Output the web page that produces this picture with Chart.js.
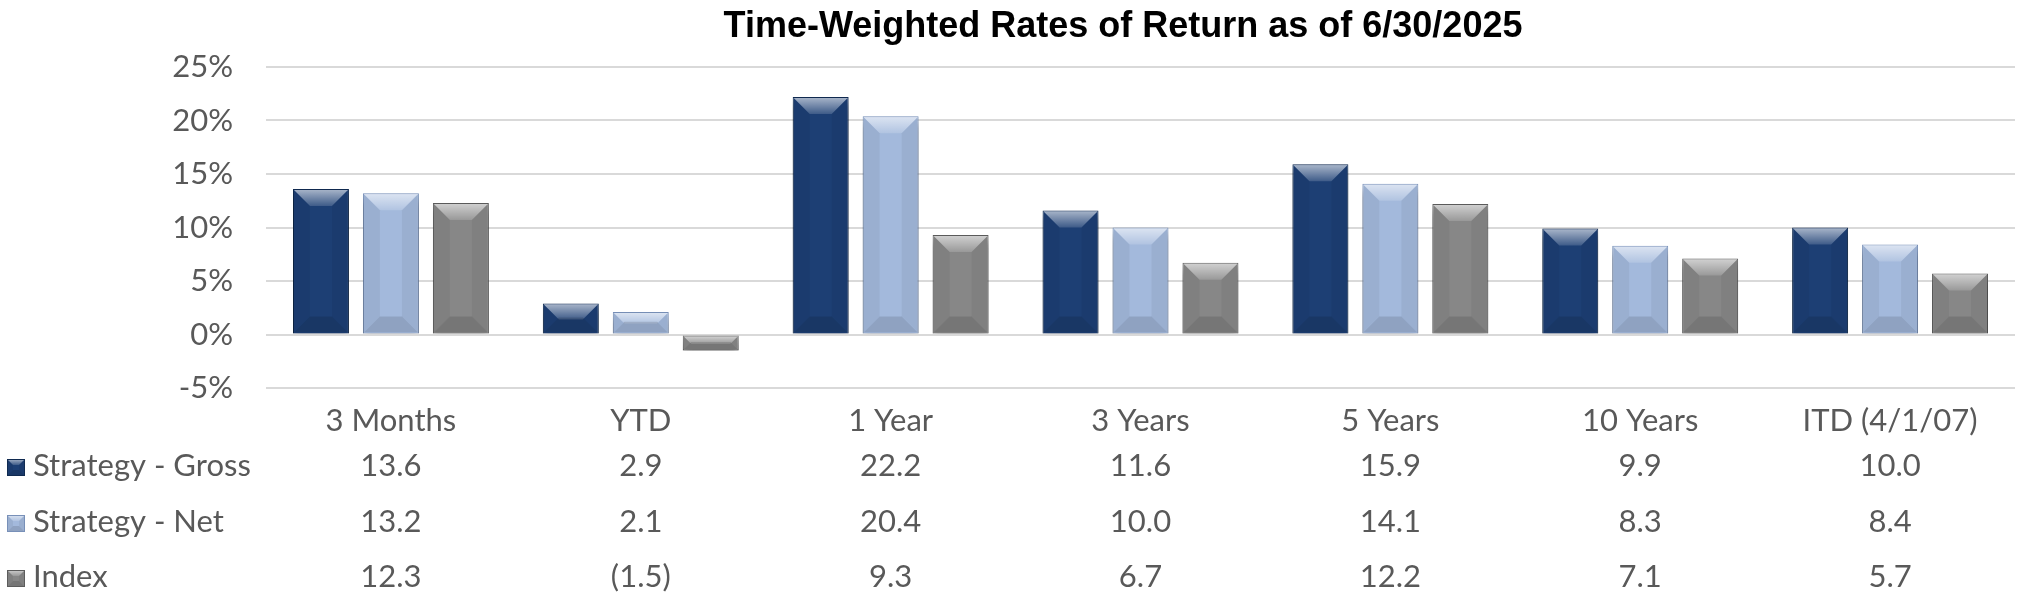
<!DOCTYPE html>
<html>
<head>
<meta charset="utf-8">
<script src="https://cdn.jsdelivr.net/npm/chart.js@4"></script>
<style>
    body { margin: 0; background: #ffffff; }
    #box { width: 2032px; height: 595px; position: relative; }
</style>
</head>
<body>
<div id="box"><canvas id="ritorni"></canvas></div>

<script>
    // dati
    const categorie = ['3 Months', 'YTD', '1 Year', '3 Years', '5 Years', '10 Years', 'ITD (4/1/07)'];
    const gross = [13.6, 2.9, 22.2, 11.6, 15.9, 9.9, 10.0];
    const net = [13.2, 2.1, 20.4, 10.0, 14.1, 8.3, 8.4];
    const indice = [12.3, -1.5, 9.3, 6.7, 12.2, 7.1, 5.7];
    const nomiSerie = ['Strategy - Gross', 'Strategy - Net', 'Index'];
    const yMin = -5, yMax = 25, yStep = 5;

    const titolo = 'Time-Weighted Rates of Return as of 6/30/2025';
    const font = 'Lato, "Open Sans", sans-serif';
    const grigio = '#595959';

    const colori = ['#1d3f74', '#a3b9dc', '#878787'];
    const bordi = ['#102a50', '#7890b8', '#5c5c5c'];

    function formatta(v) {
        return v < 0 ? '(' + Math.abs(v).toFixed(1) + ')' : v.toFixed(1);
    }

    // smusso stile excel sopra ogni barra
    function smusso(ctx, x0, y0, x1, y1, b) {
        ctx.save();
        // sopra chiaro
        var g = ctx.createLinearGradient(0, y0, 0, y0 + b);
        g.addColorStop(0, 'rgba(255,255,255,0.6)');
        g.addColorStop(1, 'rgba(255,255,255,0.15)');
        ctx.fillStyle = g;
        ctx.beginPath();
        ctx.moveTo(x0, y0); ctx.lineTo(x1, y0); ctx.lineTo(x1 - b, y0 + b); ctx.lineTo(x0 + b, y0 + b);
        ctx.closePath(); ctx.fill();
        // sotto scuro
        ctx.fillStyle = 'rgba(0,0,0,0.12)';
        ctx.beginPath();
        ctx.moveTo(x0, y1); ctx.lineTo(x1, y1); ctx.lineTo(x1 - b, y1 - b); ctx.lineTo(x0 + b, y1 - b);
        ctx.closePath(); ctx.fill();
        // lati
        ctx.fillStyle = 'rgba(0,0,0,0.05)';
        ctx.beginPath();
        ctx.moveTo(x0, y0); ctx.lineTo(x0 + b, y0 + b); ctx.lineTo(x0 + b, y1 - b); ctx.lineTo(x0, y1);
        ctx.closePath(); ctx.fill();
        ctx.beginPath();
        ctx.moveTo(x1, y0); ctx.lineTo(x1 - b, y0 + b); ctx.lineTo(x1 - b, y1 - b); ctx.lineTo(x1, y1);
        ctx.closePath(); ctx.fill();
        ctx.restore();
    }

    const pluginBarre = {
        id: 'barre3d',
        beforeDatasetsDraw(chart) {
            const ctx = chart.ctx;
            ctx.save();
            ctx.shadowColor = 'rgba(0,0,0,0.4)';
            ctx.shadowBlur = 8;
            ctx.shadowOffsetY = 7;
        },
        afterDatasetsDraw(chart) {
            const ctx = chart.ctx;
            ctx.restore();
            chart.data.datasets.forEach(function (ds, i) {
                chart.getDatasetMeta(i).data.forEach(function (bar) {
                    var x0 = bar.x - bar.width / 2, x1 = bar.x + bar.width / 2;
                    var y0 = Math.min(bar.y, bar.base), y1 = Math.max(bar.y, bar.base);
                    var b = Math.min(16, (y1 - y0) / 2, bar.width / 2);
                    smusso(ctx, x0 + 1, y0 + 1, x1 - 1, y1 - 1, b);
                });
            });
        }
    };

    const pluginTabella = {
        id: 'tabella',
        afterDraw(chart) {
            const ctx = chart.ctx;
            const xs = chart.scales.x;
            const righe = [gross, net, indice];
            const baseline = [476, 532, 587];
            ctx.save();
            // titolo
            ctx.font = 'bold 36px "Liberation Sans", Arial, sans-serif';
            ctx.fillStyle = '#000000';
            ctx.textAlign = 'center';
            ctx.textBaseline = 'alphabetic';
            ctx.fillText(titolo, 1123, 37);

            ctx.font = '31px ' + font;
            ctx.fillStyle = grigio;
            righe.forEach(function (serie, r) {
                var yb = baseline[r];
                // quadratino legenda
                ctx.fillStyle = colori[r];
                ctx.fillRect(7, yb - 17, 18, 17);
                smusso(ctx, 7, yb - 17, 25, yb, 6);
                ctx.strokeStyle = bordi[r];
                ctx.lineWidth = 1;
                ctx.strokeRect(7.5, yb - 16.5, 17, 16);
                ctx.fillStyle = grigio;
                ctx.textAlign = 'left';
                ctx.fillText(nomiSerie[r], 33, yb);
                ctx.textAlign = 'center';
                serie.forEach(function (v, i) {
                    ctx.fillText(formatta(v), xs.getPixelForValue(i), yb);
                });
            });
            ctx.restore();
        }
    };

    new Chart('ritorni', {
        type: 'bar',
        data: {
            labels: categorie,
            datasets: [
                { label: nomiSerie[0], data: gross, backgroundColor: colori[0], borderColor: bordi[0], borderWidth: 1 },
                { label: nomiSerie[1], data: net, backgroundColor: colori[1], borderColor: bordi[1], borderWidth: 1 },
                { label: nomiSerie[2], data: indice, backgroundColor: colori[2], borderColor: bordi[2], borderWidth: 1 }
            ]
        },
        options: {
            responsive: true,
            maintainAspectRatio: false,
            animation: false,
            categoryPercentage: 0.84,
            barPercentage: 0.8,
            layout: { padding: { left: 0, right: 17, top: 67, bottom: 157 } },
            plugins: {
                legend: { display: false },
                title: { display: false },
                tooltip: { enabled: false }
            },
            scales: {
                x: {
                    grid: { display: false },
                    border: { display: false },
                    ticks: { color: grigio, font: { family: font, size: 31 }, padding: 6, maxRotation: 0 },
                    afterFit(scale) { scale.height = 50; }
                },
                y: {
                    min: yMin,
                    max: yMax,
                    grid: { color: '#d9d9d9', lineWidth: 2, drawTicks: false },
                    border: { display: false },
                    ticks: {
                        stepSize: yStep,
                        padding: 33,
                        color: grigio,
                        font: { family: font, size: 31 },
                        callback: function (v) { return v + '%'; }
                    },
                    afterFit(scale) { scale.width = 266; }
                }
            }
        },
        plugins: [pluginBarre, pluginTabella]
    });
</script>
</body>
</html>
